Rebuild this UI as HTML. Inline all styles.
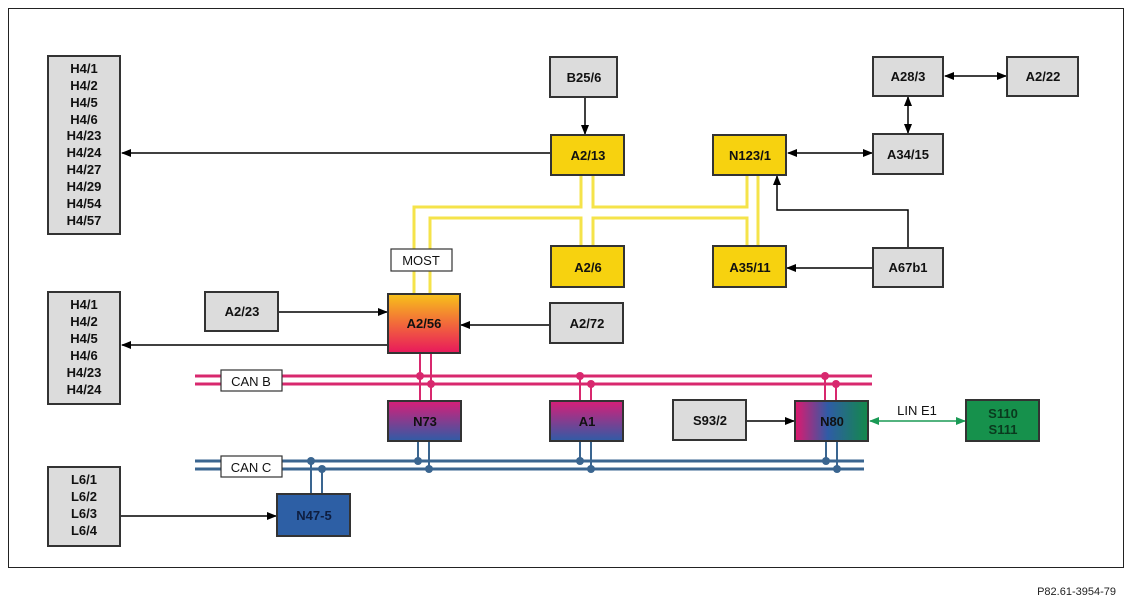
<!DOCTYPE html>
<html><head><meta charset="utf-8"><style>
html,body{margin:0;padding:0;background:#fff;}
svg{display:block;font-family:"Liberation Sans",Arial,sans-serif;}
</style></head><body>
<svg width="1133" height="604" viewBox="0 0 1133 604" xmlns="http://www.w3.org/2000/svg">
<defs>
<linearGradient id="g56" x1="0" y1="0" x2="0" y2="1"><stop offset="0" stop-color="#f7c21a"/><stop offset="0.5" stop-color="#f26a3a"/><stop offset="1" stop-color="#e8185c"/></linearGradient>
<linearGradient id="gpb" x1="0" y1="0" x2="0" y2="1"><stop offset="0" stop-color="#d81e78"/><stop offset="1" stop-color="#2f5ca6"/></linearGradient>
<linearGradient id="g80" x1="0" y1="0" x2="1" y2="0"><stop offset="0" stop-color="#e0186e"/><stop offset="0.45" stop-color="#2f5ca6"/><stop offset="1" stop-color="#13894a"/></linearGradient>
<marker id="ah" markerWidth="10" markerHeight="8" refX="9" refY="4" orient="auto" markerUnits="userSpaceOnUse"><path d="M0,0 L10,4 L0,8 Z" fill="#000"/></marker>
<marker id="ahs" markerWidth="10" markerHeight="8" refX="1" refY="4" orient="auto" markerUnits="userSpaceOnUse"><path d="M10,0 L0,4 L10,8 Z" fill="#000"/></marker>
<marker id="gh" markerWidth="10" markerHeight="8" refX="9" refY="4" orient="auto" markerUnits="userSpaceOnUse"><path d="M0,0 L10,4 L0,8 Z" fill="#1a9a55"/></marker>
<marker id="ghs" markerWidth="10" markerHeight="8" refX="1" refY="4" orient="auto" markerUnits="userSpaceOnUse"><path d="M10,0 L0,4 L10,8 Z" fill="#1a9a55"/></marker>
</defs>
<rect x="8.5" y="8.5" width="1115" height="559" fill="none" stroke="#222" stroke-width="1"/>

<!-- MOST yellow lines -->
<g fill="none" stroke="#f5e34a" stroke-width="3">
<path d="M414,294 V207 H581 V175"/>
<path d="M593,175 V207 H747 V175"/>
<path d="M430,294 V218 H581 V246"/>
<path d="M593,246 V218 H747 V246"/>
<path d="M758,175 V246"/>
</g>

<!-- CAN B -->
<g stroke="#d8286e" stroke-width="3">
<line x1="195" y1="376" x2="872" y2="376"/><line x1="195" y1="384" x2="872" y2="384"/>
<line x1="420" y1="353" x2="420" y2="401" stroke-width="2"/><line x1="431" y1="353" x2="431" y2="401" stroke-width="2"/>
<line x1="580" y1="376" x2="580" y2="401" stroke-width="2"/><line x1="591" y1="384" x2="591" y2="401" stroke-width="2"/>
<line x1="825" y1="376" x2="825" y2="401" stroke-width="2"/><line x1="836" y1="384" x2="836" y2="401" stroke-width="2"/>
</g>
<g fill="#d8286e"><circle cx="420" cy="376" r="4"/><circle cx="431" cy="384" r="4"/><circle cx="580" cy="376" r="4"/><circle cx="591" cy="384" r="4"/><circle cx="825" cy="376" r="4"/><circle cx="836" cy="384" r="4"/></g>

<!-- CAN C -->
<g stroke="#3a6590" stroke-width="3">
<line x1="195" y1="461" x2="864" y2="461"/><line x1="195" y1="469" x2="864" y2="469"/>
<line x1="418" y1="441" x2="418" y2="461" stroke-width="2"/><line x1="429" y1="441" x2="429" y2="469" stroke-width="2"/>
<line x1="580" y1="441" x2="580" y2="461" stroke-width="2"/><line x1="591" y1="441" x2="591" y2="469" stroke-width="2"/>
<line x1="826" y1="441" x2="826" y2="461" stroke-width="2"/><line x1="837" y1="441" x2="837" y2="469" stroke-width="2"/>
<line x1="311" y1="461" x2="311" y2="494" stroke-width="2"/><line x1="322" y1="469" x2="322" y2="494" stroke-width="2"/>
</g>
<g fill="#3a6590"><circle cx="418" cy="461" r="4"/><circle cx="429" cy="469" r="4"/><circle cx="580" cy="461" r="4"/><circle cx="591" cy="469" r="4"/><circle cx="826" cy="461" r="4"/><circle cx="837" cy="469" r="4"/><circle cx="311" cy="461" r="4"/><circle cx="322" cy="469" r="4"/></g>

<!-- arrows -->
<g stroke="#000" stroke-width="1.5" fill="none">
<line x1="551" y1="153" x2="122" y2="153" marker-end="url(#ah)"/>
<line x1="388" y1="345" x2="122" y2="345" marker-end="url(#ah)"/>
<line x1="278" y1="312" x2="387" y2="312" marker-end="url(#ah)"/>
<line x1="550" y1="325" x2="461" y2="325" marker-end="url(#ah)"/>
<line x1="585" y1="97" x2="585" y2="134" marker-end="url(#ah)"/>
<line x1="788" y1="153" x2="872" y2="153" marker-start="url(#ahs)" marker-end="url(#ah)"/>
<line x1="945" y1="76" x2="1006" y2="76" marker-start="url(#ahs)" marker-end="url(#ah)"/>
<line x1="908" y1="97" x2="908" y2="133" marker-start="url(#ahs)" marker-end="url(#ah)"/>
<line x1="873" y1="268" x2="787" y2="268" marker-end="url(#ah)"/>
<path d="M908,248 V210 H777 V176" marker-end="url(#ah)"/>
<line x1="120" y1="516" x2="276" y2="516" marker-end="url(#ah)"/>
<line x1="746" y1="421" x2="794" y2="421" marker-end="url(#ah)"/>
</g>
<line x1="870" y1="421" x2="965" y2="421" stroke="#1a9a55" stroke-width="1.5" marker-start="url(#ghs)" marker-end="url(#gh)"/>

<!-- boxes -->
<g stroke="#333" stroke-width="2" font-weight="bold" font-size="13">
<rect x="48" y="56" width="72" height="178" fill="#dcdcdc"/>
<rect x="48" y="292" width="72" height="112" fill="#dcdcdc"/>
<rect x="48" y="467" width="72" height="79" fill="#dcdcdc"/>
<rect x="550" y="57" width="67" height="40" fill="#dcdcdc"/>
<rect x="551" y="135" width="73" height="40" fill="#f7d20f"/>
<rect x="713" y="135" width="73" height="40" fill="#f7d20f"/>
<rect x="873" y="57" width="70" height="39" fill="#dcdcdc"/>
<rect x="1007" y="57" width="71" height="39" fill="#dcdcdc"/>
<rect x="873" y="134" width="70" height="40" fill="#dcdcdc"/>
<rect x="551" y="246" width="73" height="41" fill="#f7d20f"/>
<rect x="713" y="246" width="73" height="41" fill="#f7d20f"/>
<rect x="873" y="248" width="70" height="39" fill="#dcdcdc"/>
<rect x="205" y="292" width="73" height="39" fill="#dcdcdc"/>
<rect x="388" y="294" width="72" height="59" fill="url(#g56)"/>
<rect x="550" y="303" width="73" height="40" fill="#dcdcdc"/>
<rect x="388" y="401" width="73" height="40" fill="url(#gpb)"/>
<rect x="550" y="401" width="73" height="40" fill="url(#gpb)"/>
<rect x="673" y="400" width="73" height="40" fill="#dcdcdc"/>
<rect x="795" y="401" width="73" height="40" fill="url(#g80)"/>
<rect x="966" y="400" width="73" height="41" fill="#16914c"/>
<rect x="277" y="494" width="73" height="42" fill="#2d5fa5"/>
</g>
<g stroke="#333" stroke-width="1.2" fill="#fff">
<rect x="391" y="249" width="61" height="22"/>
<rect x="221" y="370" width="61" height="21"/>
<rect x="221" y="456" width="61" height="21"/>
</g>

<g font-weight="bold" font-size="13" fill="#111" text-anchor="middle">
<text x="84" y="73">H4/1</text><text x="84" y="90">H4/2</text><text x="84" y="107">H4/5</text><text x="84" y="124">H4/6</text><text x="84" y="140">H4/23</text><text x="84" y="157">H4/24</text><text x="84" y="174">H4/27</text><text x="84" y="191">H4/29</text><text x="84" y="208">H4/54</text><text x="84" y="225">H4/57</text>
<text x="84" y="309">H4/1</text><text x="84" y="326">H4/2</text><text x="84" y="343">H4/5</text><text x="84" y="360">H4/6</text><text x="84" y="377">H4/23</text><text x="84" y="394">H4/24</text>
<text x="84" y="484">L6/1</text><text x="84" y="501">L6/2</text><text x="84" y="518">L6/3</text><text x="84" y="535">L6/4</text>
<text x="584" y="82">B25/6</text>
<text x="588" y="160">A2/13</text>
<text x="750" y="160">N123/1</text>
<text x="908" y="81">A28/3</text>
<text x="1043" y="81">A2/22</text>
<text x="908" y="159">A34/15</text>
<text x="588" y="272">A2/6</text>
<text x="750" y="272">A35/11</text>
<text x="908" y="272">A67b1</text>
<text x="242" y="316">A2/23</text>
<text x="424" y="328">A2/56</text>
<text x="587" y="328">A2/72</text>
<text x="425" y="426">N73</text>
<text x="587" y="426">A1</text>
<text x="710" y="425">S93/2</text>
<text x="832" y="426">N80</text>
<text x="1003" y="418" fill="#0a3a1e">S110</text><text x="1003" y="434" fill="#0a3a1e">S111</text>
<text x="314" y="520" fill="#0e1e40">N47-5</text>
</g>
<g font-size="13" fill="#111" text-anchor="middle">
<text x="421" y="265">MOST</text>
<text x="251" y="386">CAN B</text>
<text x="251" y="472">CAN C</text>
<text x="917" y="415">LIN E1</text>
</g>
<text x="1116" y="595" font-size="11" fill="#222" text-anchor="end">P82.61-3954-79</text>
</svg>
</body></html>
